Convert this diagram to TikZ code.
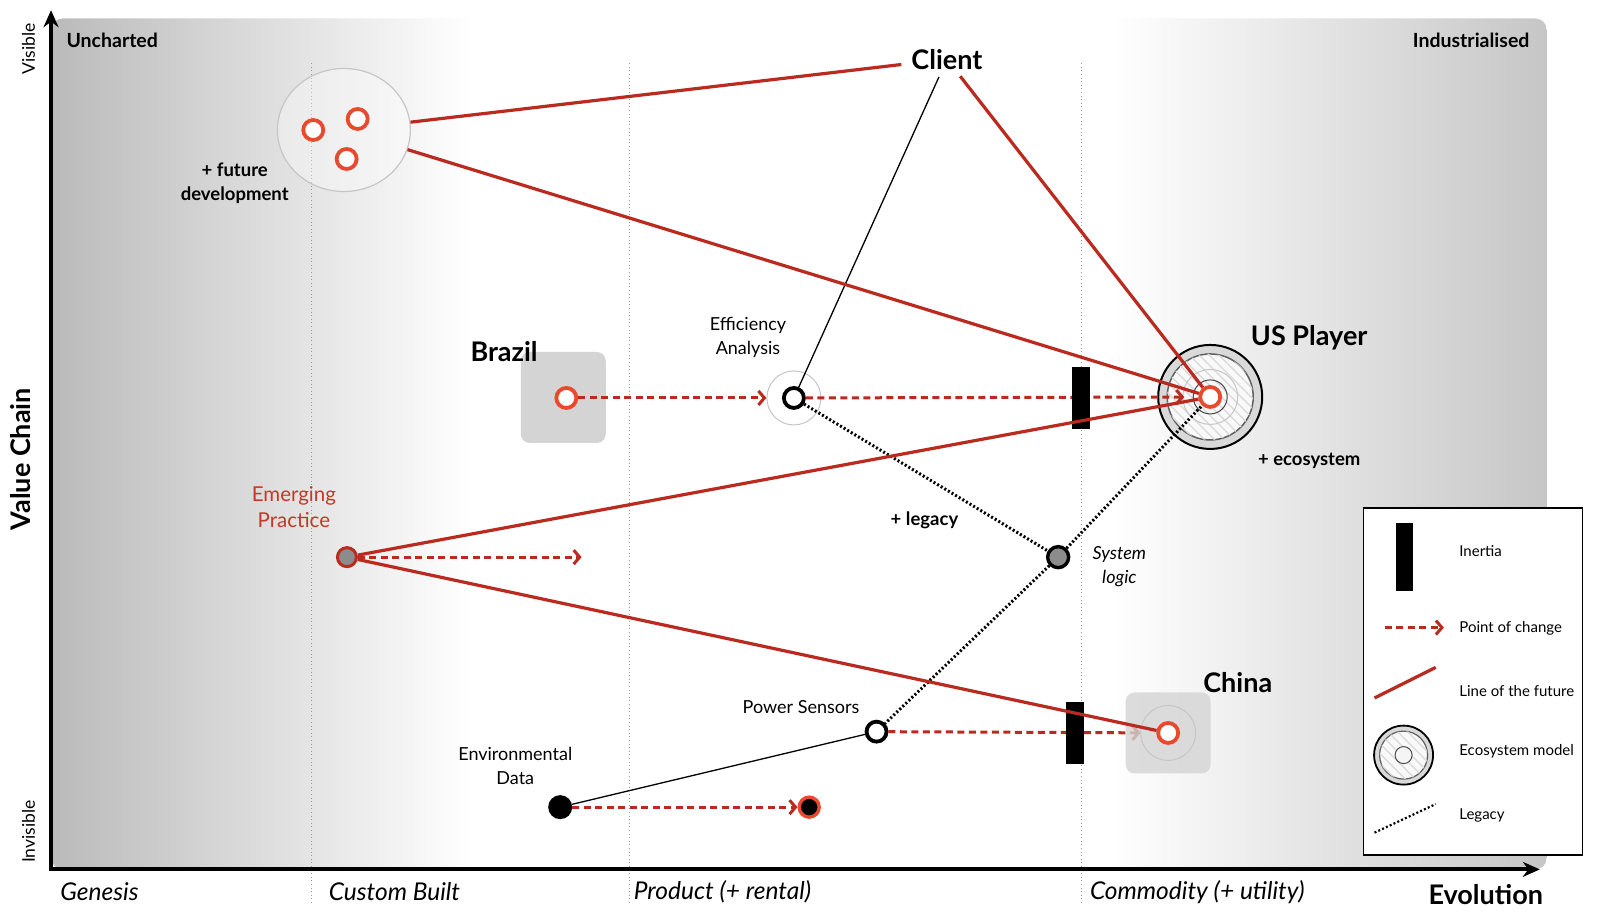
\documentclass[tikz,border=0pt]{standalone}
\usepackage{fontspec}
\setmainfont{Lato}
\usetikzlibrary{arrows.meta,patterns.meta,shapes.geometric}
\definecolor{lred}{RGB}{186,42,30}
\definecolor{nred}{RGB}{232,74,46}
\definecolor{eptext}{RGB}{196,56,40}
\definecolor{sqgray}{RGB}{212,212,212}
\definecolor{bgl}{RGB}{186,186,186}
\definecolor{bgr}{RGB}{198,198,198}
\definecolor{nodegray}{RGB}{140,140,140}
\newcommand{\fsz}[2]{\fontsize{#1}{#2}\selectfont}
\begin{document}
\begin{tikzpicture}[x=1.0204pt,y=-1.0204pt,
 future/.style={draw=lred, line width=3.2pt},
 change/.style={draw=lred, line width=3pt, dash pattern=on 7pt off 4.5pt, -{Straight Barb[length=6pt,width=14pt,line width=3pt]}},
 legacy/.style={draw=black, line width=3pt, dash pattern=on 2pt off 2.2pt},
 thinlink/.style={draw=black, line width=1.3pt},
 gridline/.style={draw=gray!80, line width=0.9pt, dash pattern=on 1pt off 2.6pt},
 ring/.style={circle, draw=nred, line width=3.8pt, fill=white, minimum size=20pt, inner sep=0pt},
 bring/.style={circle, draw=black, line width=3.8pt, fill=white, minimum size=20pt, inner sep=0pt},
 inertia/.style={rectangle, fill=black, minimum width=18pt, minimum height=62pt, inner sep=0pt},
 graysq/.style={rectangle, rounded corners=9pt, fill=sqgray, inner sep=0pt},
 halo/.style={circle, draw=gray!45, line width=1pt, inner sep=0pt},
 lbl/.style={font=\fsz{18}{24}, align=center, inner sep=1pt},
 big/.style={font=\bfseries\fsz{27}{30}, inner sep=2pt},
 plus/.style={font=\bfseries\fsz{18.5}{24}, align=center, inner sep=1pt},
 axlbl/.style={font=\itshape\fsz{24.5}{28}, anchor=west, inner sep=0pt},
 leg/.style={font=\fsz{15}{17}, anchor=west, inner sep=0pt},
 hatch/.style={postaction={pattern={Lines[angle=-45,distance=7pt,line width=1.4pt]},pattern color=gray!28}},
]
\useasboundingbox (0,0) rectangle (1568,899.6);
% background panel
\begin{scope}
\clip[rounded corners=12pt] (50,18) rectangle (1516,852);
\fill[white] (50,18) rectangle (1516,852);
\shade[left color=bgl, right color=white] (50,18) rectangle (462,852);
\shade[left color=white, right color=bgr] (1090,18) rectangle (1516,852);
\end{scope}
% grid lines
\draw[gridline] (305,62) -- (305,886);
\draw[gridline] (617,62) -- (617,886);
\draw[gridline] (1060,62) -- (1060,886);
% axes
\draw[line width=4pt, line join=miter, {Stealth[length=17pt,width=15pt]}-{Stealth[length=17pt,width=15pt]}] (50,10) -- (50,852) -- (1509,852);
% axis labels
\node[font=\bfseries\fsz{19.5}{22}, anchor=west, inner sep=0pt] (unch) at (65,40) {Uncharted};
\node[font=\bfseries\fsz{19.5}{22}, anchor=east, inner sep=0pt] (indu) at (1499,40) {Industrialised};
\node[font=\fsz{17.5}{20}, rotate=90, inner sep=0pt] (vis) at (28,48) {Visible};
\node[font=\fsz{17.5}{20}, rotate=90, inner sep=0pt] (invis) at (28,815) {Invisible};
\node[font=\bfseries\fsz{27}{30}, rotate=90, inner sep=0pt] (vc) at (20,450) {Value Chain};
\node[axlbl] (gen) at (59,874) {Genesis};
\node[axlbl] (cb) at (322,874) {Custom Built};
\node[axlbl] (prod) at (621,874) {Product (+ rental)};
\node[axlbl] (comm) at (1068,874) {Commodity (+ utility)};
\node[big] (evo) at (1456,877) {Evolution};
% cluster
\node[ellipse, draw=gray!45, line width=1.2pt, fill=white, fill opacity=0.35, draw opacity=1, minimum width=133pt, minimum height=123pt, inner sep=0pt] (clus) at (337,127.4) {};
\node[ring] (c1) at (307,127.4) {};
\node[ring] (c2) at (350.5,116.6) {};
\node[ring] (c3) at (339.7,155.8) {};
\node[plus] (fut) at (230,180) {+ future\\development};
\node[font=\bfseries\fsz{27}{30}, inner sep=2pt] (client) at (928,58) {Client};
% Brazil
\node[graysq, minimum width=85pt, minimum height=91pt] (brsq) at (552,389.5) {};
\node[big] (brl) at (494,345) {Brazil};
\node[ring] (brc) at (555,390) {};
% Efficiency analysis
\node[halo, minimum size=54pt, fill=white] (eao) at (778,390) {};
\node[bring] (ea) at (778,390) {};
\node[lbl] (eal) at (733,331) {Efficiency\\Analysis};
% US player
\node[circle, draw=black, line width=2pt, fill=gray!30, minimum size=104pt, inner sep=0pt] (usout) at (1186,389) {};
\node[circle, draw=gray!75!black, line width=1.5pt, fill=gray!5, minimum size=86pt, inner sep=0pt, hatch] (ushatch) at (1186,389) {};
\node[halo, draw=gray!45, minimum size=55pt] (usmid) at (1186,389) {};
\node[halo, draw=gray!55!black, minimum size=34pt] (usin) at (1186,389) {};
\node[ring] (usc) at (1186,389) {};
\node[big] (usl) at (1283,331) {US Player};
\node[plus] (ecol) at (1283,452) {+ ecosystem};
% emerging practice
\node[font=\fsz{20.5}{26}, text=eptext, align=center, inner sep=1pt] (epl) at (288,497) {Emerging\\Practice};
\node[circle, fill=nodegray, draw=lred, line width=3pt, minimum size=19pt, inner sep=0pt] (ep) at (340,546) {};
\coordinate (epend) at (570,546);
% system logic
\node[circle, fill=nodegray, draw=black, line width=3.4pt, minimum size=21pt, inner sep=0pt] (sysl) at (1037,546) {};
\node[font=\itshape\fsz{18}{24}, align=center, inner sep=1pt] (sysll) at (1097,555) {System\\logic};
\node[plus] (legl) at (906,510) {+ legacy};
% power sensors, environmental data
\node[bring] (psn) at (859,717) {};
\node[lbl] (psl) at (785,693) {Power Sensors};
\node[circle, fill=black, minimum size=24pt, inner sep=0pt] (envd) at (549,791) {};
\node[lbl] (envl) at (505,751) {Environmental\\Data};
\node[circle, fill=black, draw=nred, line width=3.4pt, minimum size=20pt, inner sep=0pt] (tgt) at (793,791) {};
% China anchor (invisible)
\node[circle, minimum size=55pt, inner sep=0pt] (chinaring) at (1144.8,718.3) {};
% thin links
\draw[thinlink, shorten <=6pt] (client) -- (ea);
\draw[thinlink] (envd) -- (psn);
% legacy
\draw[legacy] (ea) -- (sysl);
\draw[legacy] (sysl) -- (usc);
\draw[legacy] (sysl) -- (psn);
% points of change
\draw[change] (brc) -- (eao);
\draw[change, shorten >=14pt] (ea) -- (usc);
\draw[change] (ep) -- (epend);
\draw[change] (psn) -- (chinaring);
\draw[change] (envd) -- (tgt);
% China
\node[graysq, minimum width=85pt, minimum height=81pt, fill opacity=0.8] (chsq) at (1144.8,718.3) {};
\node[halo, draw=gray!45, minimum size=55pt] (chhalo) at (1144.8,718.3) {};
\node[ring] (chinac) at (1144.8,718.3) {};
\node[big] (chl) at (1213,669) {China};
% inertia
\node[inertia] (in1) at (1059,390) {};
\node[inertia] (in2) at (1053.5,718.3) {};
% lines of the future
\draw[future, shorten >=8pt] (clus) -- (client);
\draw[future] (clus) -- (usc);
\draw[future, shorten <=6pt] (client) -- (usc);
\draw[future] (ep) -- (usc);
\draw[future] (ep) -- (chinac);
% legend
\draw[fill=white, line width=1.5pt] (1336,498) rectangle (1551,838);
\node[inertia, minimum width=17pt, minimum height=68pt] (lgin) at (1376.4,545.4) {};
\node[leg] (lgt1) at (1430,540) {Inertia};
\coordinate (lga1) at (1357,615);
\coordinate (lga2) at (1415,615);
\draw[change] (lga1) -- (lga2);
\node[leg] (lgt2) at (1430,616) {Point of change};
\coordinate (lgf1) at (1347,684);
\coordinate (lgf2) at (1407,654);
\draw[future] (lgf1) -- (lgf2);
\node[leg] (lgt3) at (1430,677) {Line of the future};
\node[circle, draw=black, line width=1.8pt, fill=gray!30, minimum size=59pt, inner sep=0pt] (lgeo) at (1375.5,740) {};
\node[circle, draw=gray!75!black, line width=1.2pt, fill=gray!5, minimum size=48pt, inner sep=0pt, hatch] (lgeoh) at (1375.5,740) {};
\node[circle, draw=gray!60!black, line width=1pt, fill=gray!8, minimum size=17pt, inner sep=0pt] (lgeoi) at (1375.5,740) {};
\node[leg] (lgt4) at (1430,736) {Ecosystem model};
\coordinate (lgl1) at (1347,816);
\coordinate (lgl2) at (1407,788);
\draw[legacy, line width=2.2pt] (lgl1) -- (lgl2);
\node[leg] (lgt5) at (1430,799) {Legacy};
\end{tikzpicture}
\end{document}
